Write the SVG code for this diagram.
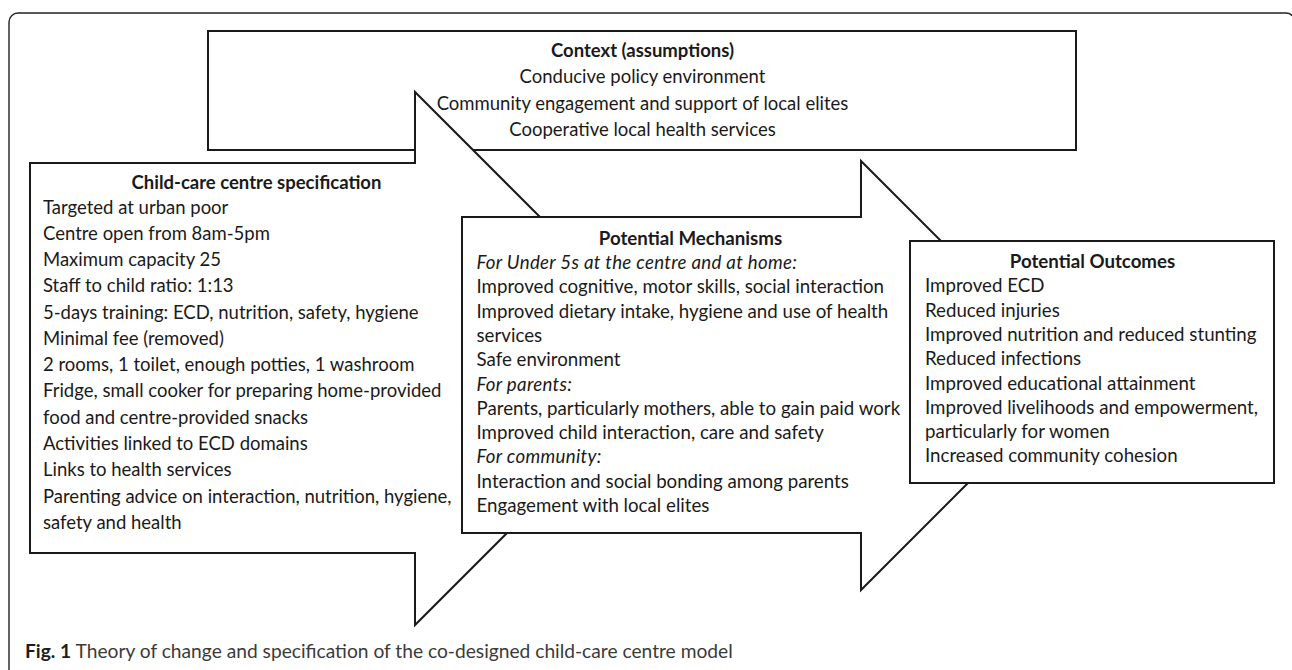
<svg xmlns="http://www.w3.org/2000/svg" width="1292" height="670" viewBox="0 0 1292 670">
  <style>
    .frame { fill: none; stroke: #222; stroke-width: 1.4; }
    .shape { fill: #fff; stroke: #1a1a1a; stroke-width: 2; stroke-linejoin: miter; }
    .t { font-family: Lato, "Open Sans", "Liberation Sans", sans-serif; font-size: 18.5px; fill: #1a1a1a; }
    .tm { font-family: Lato, "Open Sans", "Liberation Sans", sans-serif; font-size: 18.7px; fill: #1a1a1a; }
    .b { font-weight: bold; }
    .i { font-style: italic; letter-spacing: 0.3px; }
    .c { text-anchor: middle; }
    .cap { font-family: Lato, "Open Sans", "Liberation Sans", sans-serif; font-size: 19.2px; fill: #3a3a3a; }
    .capb { font-weight: bold; fill: #1e1e1e; }
  </style>

  <rect width="1292" height="670" fill="#fff"/>
  <!-- outer figure frame -->
  <rect class="frame" x="9" y="13" width="1286" height="700" rx="9" ry="9"/>

  <!-- assumptions box along the top -->
  <g id="node-context">
    <rect class="shape" x="208" y="31" width="868" height="119"/>
  </g>

  <!-- left arrow: centre specification -->
  <g id="node-spec">
    <polygon class="shape" points="30,163 415,163 415,92 681.5,358.5 415,625 415,553 30,553"/>
    <text class="t b c" x="256.5" y="189">Child-care centre specification</text>
    <text class="t" x="43" y="213.5">Targeted at urban poor</text>
    <text class="t" x="43" y="239.8">Centre open from 8am-5pm</text>
    <text class="t" x="43" y="266">Maximum capacity 25</text>
    <text class="t" x="43" y="292.3">Staff to child ratio: 1:13</text>
    <text class="t" x="43" y="318.6">5-days training: ECD, nutrition, safety, hygiene</text>
    <text class="t" x="43" y="344.8">Minimal fee (removed)</text>
    <text class="t" x="43" y="371.1">2 rooms, 1 toilet, enough potties, 1 washroom</text>
    <text class="t" x="43" y="397.4">Fridge, small cooker for preparing home-provided</text>
    <text class="t" x="43" y="423.7">food and centre-provided snacks</text>
    <text class="t" x="43" y="449.9">Activities linked to ECD domains</text>
    <text class="t" x="43" y="476.2">Links to health services</text>
    <text class="t" x="43" y="502.5">Parenting advice on interaction, nutrition, hygiene,</text>
    <text class="t" x="43" y="528.7">safety and health</text>
  </g>

  <!-- middle arrow: potential mechanisms -->
  <g id="node-mechanisms">
    <polygon class="shape" points="462,217 861,217 861,161 1075.5,375.5 861,590 861,533 462,533"/>
    <text class="tm b c" x="690.5" y="244.5">Potential Mechanisms</text>
    <text class="tm i" x="476.5" y="269">For Under 5s at the centre and at home:</text>
    <text class="tm" x="476.5" y="293.3">Improved cognitive, motor skills, social interaction</text>
    <text class="tm" x="476.5" y="317.6">Improved dietary intake, hygiene and use of health</text>
    <text class="tm" x="476.5" y="341.9">services</text>
    <text class="tm" x="476.5" y="366.2">Safe environment</text>
    <text class="tm i" x="476.5" y="390.5">For parents:</text>
    <text class="tm" x="476.5" y="414.8">Parents, particularly mothers, able to gain paid work</text>
    <text class="tm" x="476.5" y="439.1">Improved child interaction, care and safety</text>
    <text class="tm i" x="476.5" y="463.4">For community:</text>
    <text class="tm" x="476.5" y="487.7">Interaction and social bonding among parents</text>
    <text class="tm" x="476.5" y="512">Engagement with local elites</text>
  </g>

  <!-- right box: potential outcomes -->
  <g id="node-outcomes">
    <rect class="shape" x="910" y="241" width="364" height="242"/>
    <text class="tm b c" x="1092.5" y="268">Potential Outcomes</text>
    <text class="tm" x="925" y="292.3">Improved ECD</text>
    <text class="tm" x="925" y="316.6">Reduced injuries</text>
    <text class="tm" x="925" y="340.9">Improved nutrition and reduced stunting</text>
    <text class="tm" x="925" y="365.2">Reduced infections</text>
    <text class="tm" x="925" y="389.5">Improved educational attainment</text>
    <text class="tm" x="925" y="413.8">Improved livelihoods and empowerment,</text>
    <text class="tm" x="925" y="438.1">particularly for women</text>
    <text class="tm" x="925" y="462.4">Increased community cohesion</text>
  </g>

  <!-- assumption labels, drawn above the left arrow -->
  <g id="node-context-text">
    <text class="t b c" x="642.5" y="57">Context (assumptions)</text>
    <text class="t c" x="642.5" y="83">Conducive policy environment</text>
    <text class="t c" x="642.5" y="109.5">Community engagement and support of local elites</text>
    <text class="t c" x="642.5" y="135.5">Cooperative local health services</text>
  </g>

  <!-- figure caption -->
  <text class="cap" x="25" y="657.5"><tspan class="capb">Fig. 1</tspan> Theory of change and specification of the co-designed child-care centre model</text>
</svg>
